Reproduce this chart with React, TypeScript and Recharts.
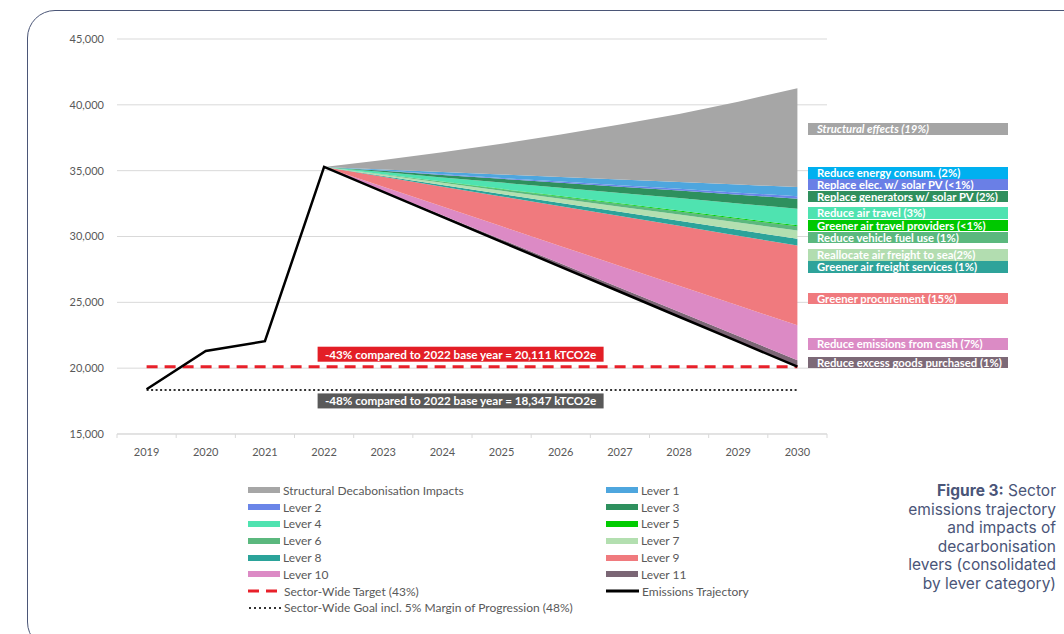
import React from "react";
import {
  ComposedChart,
  Area,
  Line,
  XAxis,
  YAxis,
  CartesianGrid,
  ReferenceLine,
} from "recharts";

// years on the category axis
const years = ["2019", "2020", "2021", "2022", "2023", "2024", "2025", "2026", "2027", "2028", "2029", "2030"];

// emissions trajectory (kTCO2e), 2019–2030
const trajectory = [18400, 21300, 22050, 35282, 33386, 31490, 29594, 27698, 25802, 23906, 22010, 20111];

// lever impacts (thickness of each band), 2022–2030
const lever11 = [0, 60, 120, 185, 245, 305, 370, 430, 490];
const lever10 = [0, 330, 660, 995, 1325, 1655, 1990, 2320, 2650];
const lever9 = [0, 760, 1515, 2270, 3030, 3790, 4545, 5300, 6060];
const lever8 = [0, 65, 130, 190, 255, 320, 385, 445, 510];
const lever7 = [0, 80, 160, 235, 315, 395, 470, 550, 630];
const lever6 = [0, 40, 80, 120, 160, 200, 240, 280, 320];
const lever5 = [0, 10, 20, 30, 40, 50, 60, 70, 80];
const lever4 = [0, 160, 315, 475, 630, 790, 950, 1105, 1265];
const lever3 = [0, 95, 190, 285, 380, 475, 570, 665, 760];
const lever2 = [0, 20, 45, 65, 90, 110, 135, 155, 180];
const lever1 = [0, 90, 175, 265, 350, 440, 525, 610, 700];
const structural = [0, 710, 1500, 2340, 3230, 4170, 5160, 6300, 7510];

const TARGET = 20111;
const GOAL = 18347;
const yTicks = [15000, 20000, 25000, 30000, 35000, 40000, 45000];

// stack order, bottom to top
const bands = [
  { key: "l11", name: "Lever 11", values: lever11, color: "#7b6675" },
  { key: "l10", name: "Lever 10", values: lever10, color: "#dc8ac5" },
  { key: "l9", name: "Lever 9", values: lever9, color: "#f07a7e" },
  { key: "l8", name: "Lever 8", values: lever8, color: "#2ba39a" },
  { key: "l7", name: "Lever 7", values: lever7, color: "#b3dfb0" },
  { key: "l6", name: "Lever 6", values: lever6, color: "#5bb87e" },
  { key: "l5", name: "Lever 5", values: lever5, color: "#00cc00" },
  { key: "l4", name: "Lever 4", values: lever4, color: "#4fe3b0" },
  { key: "l3", name: "Lever 3", values: lever3, color: "#2e905e" },
  { key: "l2", name: "Lever 2", values: lever2, color: "#6a85e8" },
  { key: "l1", name: "Lever 1", values: lever1, color: "#4ea6de" },
  { key: "struct", name: "Structural Decabonisation Impacts", values: structural, color: "#a6a6a6" },
];

const START = years.indexOf("2022");

const data = years.map((year, i) => {
  const row: Record<string, any> = { year, base: trajectory[i], traj: trajectory[i] };
  bands.forEach((b) => {
    row[b.key] = i < START ? 0 : b.values[i - START];
  });
  return row;
});

const labelBoxes = [
  { text: "Structural effects (19%)", color: "#a5a5a5", top: 123, italic: true },
  { text: "Reduce energy consum. (2%)", color: "#00b0f0", top: 167 },
  { text: "Replace elec. w/ solar PV (<1%)", color: "#6a7fe6", top: 178.5 },
  { text: "Replace generators w/ solar PV (2%)", color: "#2f8f5d", top: 190.5 },
  { text: "Reduce air travel (3%)", color: "#4ee3b0", top: 207 },
  { text: "Greener air travel providers (<1%)", color: "#00c800", top: 219.5 },
  { text: "Reduce vehicle fuel use (1%)", color: "#5bb87e", top: 231.5 },
  { text: "Reallocate air freight to sea(2%)", color: "#b2ddb0", top: 249 },
  { text: "Greener air freight services (1%)", color: "#2ea39a", top: 261 },
  { text: "Greener procurement (15%)", color: "#f07a7e", top: 292.5 },
  { text: "Reduce emissions from cash (7%)", color: "#db8bc5", top: 338 },
  { text: "Reduce excess goods purchased (1%)", color: "#7c6977", top: 356.5 },
];

const legendLeft = ["struct", "l2", "l4", "l6", "l8", "l10"];
const legendRight = ["l1", "l3", "l5", "l7", "l9", "l11"];

const FONT = "Lato, 'Liberation Sans', sans-serif";
const HALF = 29.6;

const YearTick = (props: any) => {
  const { x, y, payload, index } = props;
  return (
    <g>
      <line x1={x + HALF} x2={x + HALF} y1={y} y2={y + 4} stroke="#d9d9d9" />
      {index === 0 && <line x1={x - HALF} x2={x - HALF} y1={y} y2={y + 4} stroke="#d9d9d9" />}
      <text x={x} y={y + 22} textAnchor="middle" fill="#595959" fontSize={11} fontFamily={FONT}>
        {payload.value}
      </text>
    </g>
  );
};

const RefBox = ({ viewBox, text, fill, dy }: any) => {
  if (!viewBox) return null;
  const bx = viewBox.x + 171;
  const by = viewBox.y + dy;
  return (
    <g>
      <rect x={bx} y={by} width={286} height={15} fill={fill} />
      <text
        x={bx + 143}
        y={by + 11.8}
        textAnchor="middle"
        fill="#fff"
        fontSize={11.7}
        fontWeight="bold"
        fontFamily={FONT}
      >
        {text}
      </text>
    </g>
  );
};

const swatch = (key: string) => {
  if (key === "target")
    return (
      <svg width={33} height={8}>
        <line x1={0} x2={33} y1={4} y2={4} stroke="#e8202a" strokeWidth={3} strokeDasharray="11 7" />
      </svg>
    );
  if (key === "goal")
    return (
      <svg width={33} height={8}>
        <line x1={1} x2={33} y1={4} y2={4} stroke="#333" strokeWidth={2} strokeDasharray="2 3" />
      </svg>
    );
  if (key === "traj")
    return (
      <svg width={33} height={8}>
        <line x1={0} x2={33} y1={4} y2={4} stroke="#000" strokeWidth={3} />
      </svg>
    );
  const b = bands.find((x) => x.key === key)!;
  return <div style={{ width: 32, height: 6, background: b.color, margin: "1px 0" }} />;
};

const legendName = (key: string) => {
  if (key === "target") return "Sector-Wide Target (43%)";
  if (key === "goal") return "Sector-Wide Goal incl. 5% Margin of Progression (48%)";
  if (key === "traj") return "Emissions Trajectory";
  return bands.find((x) => x.key === key)!.name;
};

const LegendColumn = ({ keys, left }: { keys: string[]; left: number }) => (
  <div style={{ position: "absolute", left, top: 482 }}>
    {keys.map((k) => (
      <div key={k} style={{ display: "flex", alignItems: "center", height: 16.8 }}>
        {swatch(k)}
        <span style={{ marginLeft: 3, fontSize: 12, color: "#595959", fontFamily: FONT, whiteSpace: "nowrap" }}>
          {legendName(k)}
        </span>
      </div>
    ))}
  </div>
);

export default function App() {
  return (
    <div style={{ position: "absolute", left: 0, top: 0, width: 1064, height: 634, overflow: "hidden", background: "#fff" }}>
      <div
        style={{
          position: "absolute",
          left: 27,
          top: 10,
          width: 1100,
          height: 640,
          border: "1.5px solid #4b5677",
          borderRadius: 28,
          boxSizing: "border-box",
        }}
      />
      <div style={{ position: "absolute", left: 0, top: 0 }}>
        <ComposedChart width={830} height={464} data={data} margin={{ top: 39, right: 3, bottom: 0, left: 0 }}>
          <CartesianGrid vertical={false} stroke="#d9d9d9" />
          <XAxis
            dataKey="year"
            interval={0}
            padding={{ left: HALF, right: HALF }}
            axisLine={{ stroke: "#d9d9d9" }}
            tickLine={false}
            tickSize={0}
            tickMargin={0}
            height={30}
            tick={<YearTick />}
          />
          <YAxis
            domain={[15000, 45000]}
            ticks={yTicks}
            allowDataOverflow
            width={117}
            axisLine={false}
            tickLine={false}
            tickMargin={7}
            tickFormatter={(v) => v.toLocaleString("en-US")}
            tick={{ fontSize: 11, fill: "#595959", fontFamily: FONT }}
          />
          <Area dataKey="base" stackId="s" fill="none" stroke="none" isAnimationActive={false} />
          {bands.map((b) => (
            <Area
              key={b.key}
              dataKey={b.key}
              stackId="s"
              type="linear"
              fill={b.color}
              fillOpacity={1}
              stroke="none"
              isAnimationActive={false}
            />
          ))}
          <ReferenceLine
            segment={[{ x: "2019", y: TARGET }, { x: "2030", y: TARGET }]}
            stroke="#e8202a"
            strokeWidth={3}
            strokeDasharray="11 7"
            label={(p: any) => (
              <RefBox {...p} text="-43% compared to 2022 base year = 20,111 kTCO2e" fill="#e31e26" dy={-20} />
            )}
          />
          <ReferenceLine
            segment={[{ x: "2019", y: GOAL }, { x: "2030", y: GOAL }]}
            stroke="#333"
            strokeWidth={2}
            strokeDasharray="2 2.5"
            label={(p: any) => (
              <RefBox {...p} text="-48% compared to 2022 base year = 18,347 kTCO2e" fill="#595959" dy={3.5} />
            )}
          />
          <Line
            dataKey="traj"
            type="linear"
            stroke="#000"
            strokeWidth={2.5}
            dot={false}
            isAnimationActive={false}
          />
        </ComposedChart>
      </div>

      {labelBoxes.map((l) => (
        <div
          key={l.text}
          style={{
            position: "absolute",
            left: 808,
            top: l.top,
            width: 200,
            height: 11.5,
            background: l.color,
            color: "#fff",
            fontFamily: FONT,
            fontWeight: 700,
            fontStyle: l.italic ? "italic" : "normal",
            fontSize: 11.3,
            lineHeight: "11.5px",
            paddingLeft: 9,
            boxSizing: "border-box",
            whiteSpace: "nowrap",
            overflow: "hidden",
          }}
        >
          {l.text}
        </div>
      ))}

      <LegendColumn keys={[...legendLeft, "target", "goal"]} left={248} />
      <LegendColumn keys={[...legendRight, "traj"]} left={606} />

      <div
        style={{
          position: "absolute",
          right: 8,
          top: 482,
          textAlign: "right",
          fontFamily: "Inter, sans-serif",
          fontSize: 15.5,
          lineHeight: "18.6px",
          color: "#4a5578",
        }}
      >
        <b style={{ fontWeight: 700 }}>Figure 3:</b> Sector
        <br />
        emissions trajectory
        <br />
        and impacts of
        <br />
        decarbonisation
        <br />
        levers (consolidated
        <br />
        by lever category)
      </div>
    </div>
  );
}
